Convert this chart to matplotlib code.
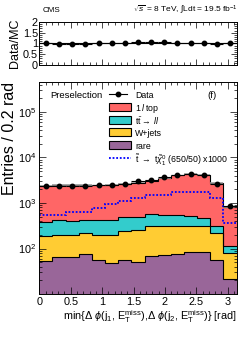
import numpy as np
import matplotlib
matplotlib.use("Agg")
import matplotlib.pyplot as plt
from matplotlib.patches import Rectangle
from matplotlib.lines import Line2D
from matplotlib.ticker import MultipleLocator, LogLocator, NullFormatter

plt.rcParams['font.family'] = ['Liberation Sans', 'DejaVu Sans']
plt.rcParams['mathtext.fontset'] = 'custom'
plt.rcParams['mathtext.rm'] = 'Liberation Sans'
plt.rcParams['mathtext.it'] = 'Liberation Sans:italic'
plt.rcParams['mathtext.bf'] = 'Liberation Sans:bold'

# ---- data (15 bins, 0..pi) ----
n_bins = 15
x_max = np.pi
data = [2340, 2340, 2420, 2420, 2460, 2550, 2640, 2970, 3240, 3690, 4080, 4380, 4170, 2640, 840]
one_l_top = [1948, 2034, 2094, 2066, 1999, 2081, 2135, 2297, 2519, 2941, 3465, 3789, 3649, 2407, 712]
tt_ll = [199, 216, 203, 217, 224, 238, 256, 247, 259, 231, 239, 211, 158, 99, 37]
wjets = [140, 139, 139, 143, 148, 148, 193, 208, 253, 236, 243, 238, 222, 166, 58]
rare = [53, 64, 64, 74, 55, 48, 56, 50, 67, 73, 77, 82, 83, 55, 21]
signal_x1000 = [559, 559, 650, 650, 769, 960, 1135, 1274, 1538, 1538, 1790, 1790, 1790, 1274, 367]
mc_rel_unc = 0.04

labels = ["Data", r"1$\,l$ top", r"t$\bar{\rm t}$$\rightarrow$ $ll$", "W+jets", "rare",
          r"$\tilde{\rm t}$ $\rightarrow$ t$\tilde{\chi}_1^0$ (650/50) x1000"]
colors = ["#FF6666", "#33CCCC", "#FFCC33", "#996699"]

edges = np.linspace(0, x_max, n_bins + 1)
centers = 0.5 * (edges[1:] + edges[:-1])
halfw = 0.5 * (edges[1] - edges[0])

data = np.array(data, float)
comps = [np.array(c, float) for c in (rare, wjets, tt_ll, one_l_top)]
total = sum(comps)
ratio = data / total

W, H = 249, 338
fig = plt.figure(figsize=(W / 100, H / 100), dpi=100)
axr = fig.add_axes([0.158, 0.808, 0.792, 0.127])
ax = fig.add_axes([0.158, 0.130, 0.792, 0.628])

# ---- ratio panel ----
axr.stairs(1 + mc_rel_unc * np.ones(n_bins), edges, baseline=1 - mc_rel_unc * np.ones(n_bins),
           fill=True, color="#BBBBBB", lw=0)
axr.axhline(1.0, color="k", lw=0.8)
axr.errorbar(centers, ratio, xerr=halfw, fmt="o", color="k", ms=3.2, lw=0.8, capsize=0)
axr.set_xlim(0, x_max)
axr.set_ylim(0, 2)
axr.set_yticks([0, 0.5, 1, 1.5, 2])
axr.set_yticklabels(["0", "0.5", "1", "1.5", "2"])
axr.xaxis.set_minor_locator(MultipleLocator(0.1))
axr.xaxis.set_major_locator(MultipleLocator(0.5))
axr.yaxis.set_minor_locator(MultipleLocator(0.1))
axr.set_xticklabels([])
axr.tick_params(which="both", direction="in", top=True, right=True, width=0.5, labelsize=7.8, pad=1)
axr.tick_params(which="major", length=4)
axr.tick_params(which="minor", length=2)
axr.set_ylabel("Data/MC", fontsize=9, labelpad=1)
for s in axr.spines.values():
    s.set_linewidth(0.7)

# ---- main panel ----
ymin = 10
stack_tops = []
running = np.zeros(n_bins)
for c in comps:
    running = running + c
    stack_tops.append(running.copy())
prev = np.full(n_bins, ymin, float)
for top, col in zip(stack_tops, colors[::-1]):
    ax.stairs(top, edges, baseline=prev, fill=True, color=col, lw=0)
    prev = top
for top in stack_tops:
    ax.stairs(top, edges, color="k", lw=0.8, baseline=None)
ax.stairs(total * (1 + mc_rel_unc), edges, baseline=total * (1 - mc_rel_unc),
          fill=True, color="#999999", alpha=0.8, lw=0)
ax.stairs(signal_x1000, edges, color="#0000FF", lw=1.3, ls=(0, (1, 1)), baseline=None)
ax.errorbar(centers, data, xerr=halfw, fmt="o", color="k", ms=3.2, lw=0.8, capsize=0)

ax.set_yscale("log")
ax.set_xlim(0, x_max)
ax.set_ylim(ymin, 4.6e5)
ax.xaxis.set_major_locator(MultipleLocator(0.5))
ax.xaxis.set_minor_locator(MultipleLocator(0.1))
ax.set_xticks([0, 0.5, 1, 1.5, 2, 2.5, 3])
ax.set_xticklabels(["0", "0.5", "1", "1.5", "2", "2.5", "3"])
ax.yaxis.set_minor_locator(LogLocator(base=10, subs=np.arange(2, 10), numticks=20))
ax.yaxis.set_minor_formatter(NullFormatter())
ax.set_yticks([1e2, 1e3, 1e4, 1e5])
ax.set_yticklabels([r"$10^2$", r"$10^3$", r"$10^4$", r"$10^5$"])
ax.tick_params(which="both", direction="in", top=True, right=True, width=0.5, labelsize=7.8, pad=2)
ax.tick_params(which="major", length=5)
ax.tick_params(which="minor", length=2.5)
for s in ax.spines.values():
    s.set_linewidth(0.7)

ax.set_ylabel("Entries / 0.2 rad", fontsize=11.5, loc="top", labelpad=1)
ax.set_xlabel(r"min{$\Delta$ $\phi$(j$_1$, E$_{\rm T}^{\rm miss}$),$\Delta$ $\phi$(j$_2$, E$_{\rm T}^{\rm miss}$)} [rad]",
              fontsize=7.8, loc="right", labelpad=1)

ax.text(0.054, 0.935, "Preselection", transform=ax.transAxes, fontsize=6.8, va="center", ha="left")
ax.text(0.9, 0.935, "(f)", transform=ax.transAxes, fontsize=6.8, va="center", ha="right")

# ---- legend (drawn row by row at fixed spacing) ----
def fx(px):
    return px / W

def fy(py):
    return 1 - py / H

row_y = [94.3 + 12.7 * i for i in range(6)]
hx0, hx1, tx = 109.0, 130.7, 135.0
for i, (lab, yy) in enumerate(zip(labels, row_y)):
    if i == 0:
        fig.add_artist(Line2D([fx(hx0), fx(hx1 - 4)], [fy(yy), fy(yy)], color="k", lw=0.8,
                              transform=fig.transFigure))
        fig.add_artist(Line2D([fx((hx0 + hx1 - 4) / 2)], [fy(yy)], color="k", marker="o", ms=3.2,
                              transform=fig.transFigure))
    elif i == 5:
        fig.add_artist(Line2D([fx(hx0), fx(hx1)], [fy(yy), fy(yy)], color="#0000FF", lw=1.3,
                              ls=(0, (1, 1)), transform=fig.transFigure))
    else:
        fig.add_artist(Rectangle((fx(hx0), fy(yy + 4)), fx(hx1 - hx0), 8 / H,
                                 facecolor=colors[i - 1], edgecolor="k", lw=0.8,
                                 transform=fig.transFigure))
    fig.text(fx(tx), fy(yy), lab, fontsize=6.3, va="center_baseline", ha="left")

fig.text(43 / W, 1 - 10 / H, "CMS", fontsize=5.8, va="center", ha="left")
fig.text(238 / W, 1 - 10 / H, r"$\sqrt{s}$ = 8 TeV, $\int$Ldt = 19.5 fb$^{-1}$",
         fontsize=6, va="center", ha="right")

fig.savefig("out.png", dpi=100)
